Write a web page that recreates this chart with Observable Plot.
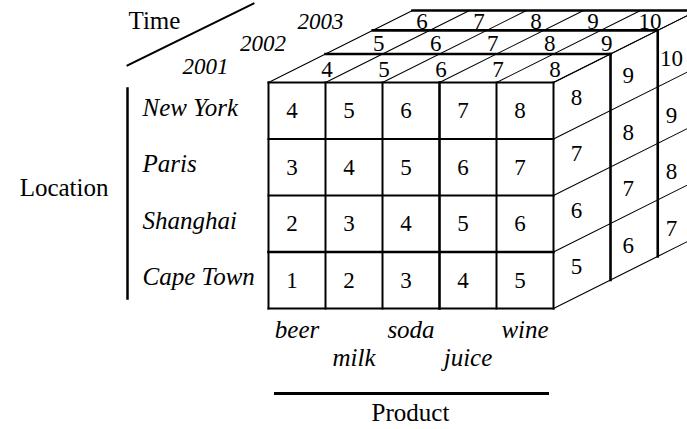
<!DOCTYPE html>
<html>
<head>
<meta charset="utf-8">
<script src="https://cdn.jsdelivr.net/npm/d3@7"></script>
<script src="https://cdn.jsdelivr.net/npm/@observablehq/plot@0.6"></script>
<style>
  html, body { margin: 0; padding: 0; background: #fff; overflow: hidden; }
  #chart svg { overflow: hidden; display: block; font-family: "Liberation Serif", "Times New Roman", serif; }
  #chart svg text { font-family: "Liberation Serif", "Times New Roman", serif; }
</style>
</head>
<body>
<div id="chart"></div>
<script>
// ---- data ----
const products = ["beer", "milk", "soda", "juice", "wine"];
const locations = ["New York", "Paris", "Shanghai", "Cape Town"];
const years = ["2001", "2002", "2003"];
const sales2001 = [[4, 5, 6, 7, 8], [3, 4, 5, 6, 7], [2, 3, 4, 5, 6], [1, 2, 3, 4, 5]];
const sales2002 = [[5, 6, 7, 8, 9], [4, 5, 6, 7, 8], [3, 4, 5, 6, 7], [2, 3, 4, 5, 6]];
const sales2003 = [[6, 7, 8, 9, 10], [5, 6, 7, 8, 9], [4, 5, 6, 7, 8], [3, 4, 5, 6, 7]];
const salesByYear = [sales2001, sales2002, sales2003];
const axisTitles = {time: "Time", location: "Location", product: "Product"};

// ---- layout (oblique projection with depth foreshortening) ----
const W = 687, H = 429;
const X0 = 268, Y0 = 82, CW = 57, RH = 56.5;
const DK = 62.9, DA = 0.1034, SLOPE = 0.5;
const off = d => DK * d / (1 + DA * d);
const P = (c, r, d) => { const o = off(d); return [X0 + c * CW + o, Y0 + r * RH - SLOPE * o]; };
const nC = products.length, nR = locations.length, nD = years.length;

const thin = [], mid = [], thick = [];
const seg = (arr, a, b) => arr.push({x1: a[0], y1: a[1], x2: b[0], y2: b[1]});
// front face grid
for (let c = 0; c <= nC; c++) seg(c === 3 ? thick : mid, P(c, 0, 0), P(c, nR, 0));
for (let r = 0; r <= nR; r++) seg(r === 3 ? thick : mid, P(0, r, 0), P(nC, r, 0));
// top face
for (let k = 1; k <= nD; k++) seg(thick, P(0, 0, k), P(nC, 0, k));
for (let c = 0; c <= nC; c++) seg(thin, P(c, 0, 0), P(c, 0, nD));
// right face
for (let k = 1; k <= nD; k++) seg(thick, P(nC, 0, k), P(nC, nR, k));
for (let r = 0; r <= nR; r++) seg(thin, P(nC, r, 0), P(nC, r, nD));

// cell labels
const cells = [];
locations.forEach((loc, r) => products.forEach((p, c) => {
  const [x, y] = P(c + 0.5, r + 0.5, 0);
  cells.push({x: x - 5, y: y + 7.5, t: String(sales2001[r][c])});
}));
years.forEach((yr, k) => products.forEach((p, c) => {
  const [x, y] = P(c + 0.5, 0, k + 0.5);
  cells.push({x: x, y: y + 9, t: String(salesByYear[k][0][c])});
}));
years.forEach((yr, k) => locations.forEach((loc, r) => {
  const [x, y] = P(nC, r + 0.5, k + 0.5);
  cells.push({x: x - 7, y: y + 9 + 4.5 * k, t: String(salesByYear[k][r][nC - 1])});
}));

const yearLabels = years.map((t, i) => ({x: 205 + 57.5 * i, y: 73 - 22.5 * i, t}));
const locLabels = locations.map((t, r) => ({x: 142, y: P(0, r + 0.5, 0)[1] + 5, t}));
const prodLabels = products.map((t, c) => ({x: P(c + 0.5, 0, 0)[0], y: c % 2 ? 365 : 337, t}));

const deco = [
  {x1: 127, y1: 65, x2: 253, y2: 3, w: 2},
  {x1: 127, y1: 88, x2: 127, y2: 298, w: 2.5},
  {x1: 275, y1: 393, x2: 547, y2: 393, w: 3}
];

const serif = "Liberation Serif";
const T = (data, o) => Plot.text(data, Object.assign({x: "x", y: "y", text: "t", fill: "black",
  fontFamily: serif, lineAnchor: "bottom", textAnchor: "middle"}, o));
const L = (data, w) => Plot.link(data, {x1: "x1", y1: "y1", x2: "x2", y2: "y2",
  stroke: "black", strokeWidth: w, strokeLinecap: "square"});

const chart = Plot.plot({
  width: W, height: H, margin: 0,
  x: {domain: [0, W], range: [0, W], axis: null},
  y: {domain: [0, H], range: [0, H], axis: null},
  style: {background: "white", fontFamily: serif},
  marks: [
    Plot.link(thin, {x1: "x1", y1: "y1", x2: "x2", y2: "y2", stroke: "black", strokeWidth: 1.1}),
    L(mid, 2),
    L(thick, 2.6),
    ...deco.map(d => L([d], d.w)),
    T(cells, {fontSize: 23}),
    T(yearLabels, {fontSize: 23, fontStyle: "italic"}),
    T(locLabels, {fontSize: 25, fontStyle: "italic", textAnchor: "start"}),
    T(prodLabels, {fontSize: 25, fontStyle: "italic"}),
    T([{x: 128, y: 28, t: axisTitles.time}], {fontSize: 25, textAnchor: "start"}),
    T([{x: 108, y: 195, t: axisTitles.location}], {fontSize: 25, textAnchor: "end"}),
    T([{x: 410, y: 420, t: axisTitles.product}], {fontSize: 25})
  ]
});
document.getElementById("chart").appendChild(chart);
</script>
</body>
</html>
